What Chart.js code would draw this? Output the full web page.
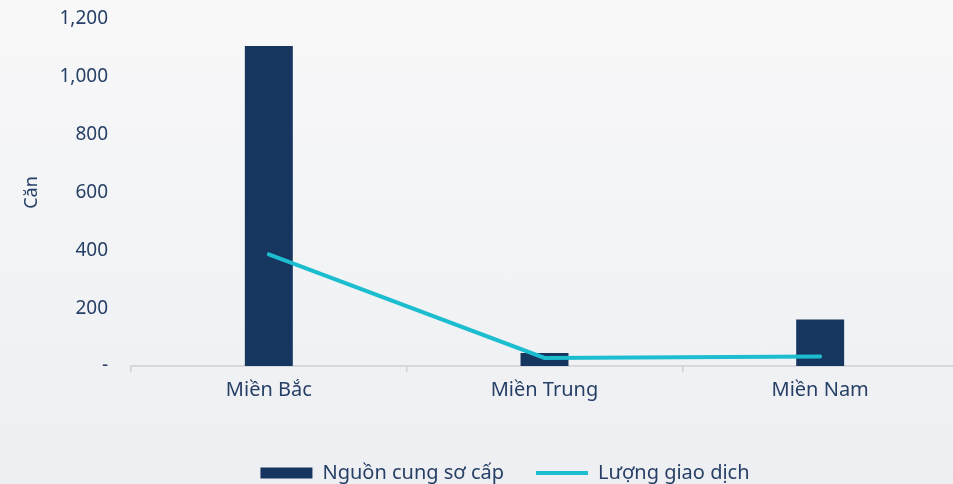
<!DOCTYPE html>
<html lang="vi">
<head>
<meta charset="utf-8">
<title>Nguồn cung sơ cấp và lượng giao dịch</title>
<script src="https://cdn.jsdelivr.net/npm/chart.js@4.4.1/dist/chart.umd.min.js"></script>
<style>
  html, body { margin: 0; padding: 0; width: 953px; height: 484px; overflow: hidden; }
  body { background: linear-gradient(180deg, #f8f8f9 0%, #f3f4f6 45%, #eeeff2 100%); }
  #wrap { position: relative; width: 958px; height: 484px; }
</style>
</head>
<body>
<div id="wrap"><canvas id="chart"></canvas></div>
<script>
// Regions
const regions = ['Miền Bắc', 'Miền Trung', 'Miền Nam'];
// Primary supply (units)
const primarySupply = [1107, 45, 161];
// Transaction volume (units)
const transactions = [386, 28, 33];
// Y axis ticks
const yTicks = [0, 200, 400, 600, 800, 1000, 1200];

const navy = '#17365f';
const cyan = '#1bbdcf';
const textColor = '#263f66';
const fontFamily = '"Noto Sans", "Open Sans", sans-serif';

// Nudge the bottom legend a little to the right of the canvas centre
const legendShift = {
  id: 'legendShift',
  afterLayout(chart) {
    if (chart.legend) {
      chart.legend.left += 26;
      chart.legend.right += 26;
    }
  }
};

new Chart(document.getElementById('chart'), {
  type: 'bar',
  data: {
    labels: regions,
    datasets: [
      {
        type: 'line',
        label: 'Lượng giao dịch',
        data: transactions,
        borderColor: cyan,
        backgroundColor: cyan,
        borderWidth: 4,
        borderCapStyle: 'round',
        pointRadius: 0,
        pointHoverRadius: 0,
        pointStyle: 'line',
        tension: 0,
        order: 1
      },
      {
        type: 'bar',
        label: 'Nguồn cung sơ cấp',
        data: primarySupply,
        backgroundColor: navy,
        borderWidth: 0,
        pointStyle: 'rect',
        categoryPercentage: 1,
        barPercentage: 0.174,
        order: 2
      }
    ]
  },
  plugins: [legendShift],
  options: {
    responsive: true,
    maintainAspectRatio: false,
    animation: false,
    layout: { padding: { top: 19, left: 0, right: 0, bottom: -9 } },
    plugins: {
      tooltip: { enabled: false },
      legend: {
        position: 'bottom',
        reverse: true,
        labels: {
          usePointStyle: true,
          pointStyleWidth: 52,
          boxHeight: 11,
          padding: 32,
          color: textColor,
          font: { family: fontFamily, size: 20 }
        }
      }
    },
    scales: {
      x: {
        offset: true,
        grid: {
          display: true,
          offset: true,
          drawOnChartArea: false,
          drawTicks: true,
          tickLength: 6,
          color: '#cfd1d4',
          lineWidth: 1.5
        },
        border: { display: true, color: '#d6d8db', width: 2 },
        ticks: {
          color: textColor,
          padding: 6,
          font: { family: fontFamily, size: 20 }
        },
        afterFit: (scale) => { scale.height += 23; }
      },
      y: {
        min: 0,
        max: 1200,
        afterBuildTicks: (axis) => { axis.ticks = yTicks.map(v => ({ value: v })); },
        // tick marks are hidden; their length only sets the label gap
        grid: { display: false, drawTicks: true, tickLength: 23 },
        border: { display: false },
        ticks: {
          color: textColor,
          padding: 0,
          font: { family: fontFamily, size: 19 },
          callback: (v) => v === 0 ? '-' : v.toLocaleString('en-US')
        },
        title: {
          display: true,
          text: 'Căn',
          color: textColor,
          padding: { top: 21, bottom: 16 },
          font: { family: fontFamily, size: 18 }
        },
        afterFit: (scale) => { scale.width = 131; }
      }
    }
  }
});
</script>
</body>
</html>
